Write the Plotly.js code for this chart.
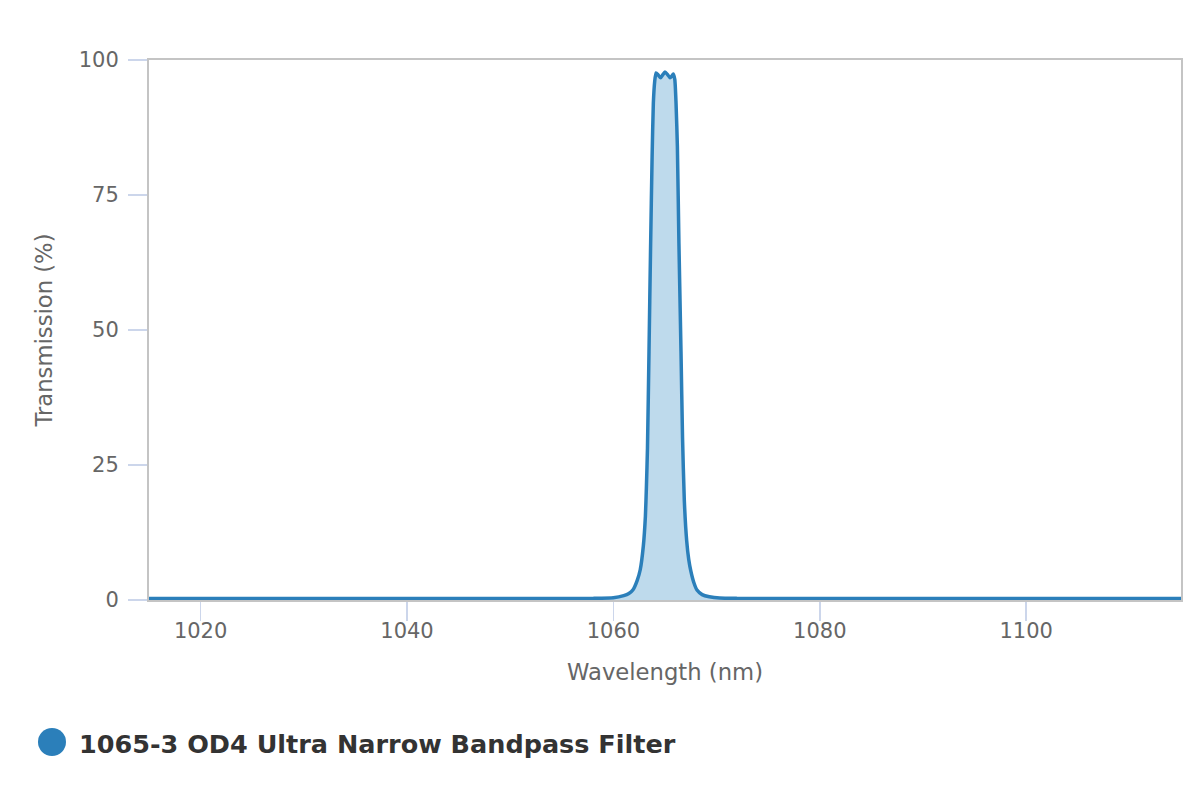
<!DOCTYPE html>
<html>
<head>
<meta charset="utf-8">
<script src="https://cdn.plot.ly/plotly-3.0.1.min.js"></script>
<style>html,body{margin:0;padding:0;background:#fff;}#chart{width:1200px;height:800px;}</style>
</head>
<body>
<div id="chart"></div>
<script>
const seriesName = "1065-3 OD4 Ultra Narrow Bandpass Filter";
const wavelength = [1015, 1040, 1058, 1060, 1061, 1061.5, 1061.9, 1062.3, 1062.6, 1062.9, 1063.1, 1063.2, 1063.3, 1063.45, 1063.6, 1063.75, 1063.87, 1064.0, 1064.13, 1064.35, 1064.58, 1064.8, 1065.0, 1065.25, 1065.49, 1065.65, 1065.8, 1065.95, 1066.07, 1066.2, 1066.35, 1066.55, 1066.7, 1066.87, 1067.1, 1067.3, 1067.5, 1067.8, 1068.1, 1068.6, 1069.3, 1070.3, 1072, 1090, 1115];
const transmission = [0.3, 0.3, 0.3, 0.4, 0.8, 1.2, 1.9, 3.6, 5.6, 10, 15.5, 21, 28, 46, 65, 82, 92, 96, 97.6, 97.2, 96.7, 97.3, 97.8, 97.3, 96.7, 97.0, 97.4, 96.4, 92, 84, 66, 46, 30, 18.5, 11, 7.5, 5.4, 3.2, 1.85, 1.0, 0.6, 0.35, 0.3, 0.3, 0.3];
const xTicks = [1020, 1040, 1060, 1080, 1100];
const yTicks = [0, 25, 50, 75, 100];

const lineColor = "#2b7fba";
const plotL = 149, plotR = 19, plotT = 60, plotB = 200;
const plotW = 1200 - plotL - plotR, plotH = 800 - plotT - plotB;
const px = v => (v - plotL) / plotW;
const py = v => (800 - plotB - v) / plotH;

const trace = {
  x: wavelength, y: transmission, type: "scatter", mode: "lines",
  name: seriesName, fill: "tozeroy", fillcolor: "rgba(190,218,236,1)",
  line: {color: lineColor, width: 3.5, shape: "spline", smoothing: 0.5}, showlegend: false, hoverinfo: "x+y"
};

const titleFont = {family: "DejaVu Sans, sans-serif", size: 22.7, color: "#666666"};
const axisCommon = {
  showgrid: false, zeroline: false, showline: true, mirror: true,
  linecolor: "#c4c4c4", linewidth: 2, ticks: "outside", ticklen: 19,
  tickwidth: 1.5, tickcolor: "#ccd6eb",
  tickfont: {family: "DejaVu Sans, sans-serif", size: 21, color: "#666666"}
};

const layout = {
  width: 1200, height: 800,
  margin: {l: plotL, r: plotR, t: plotT, b: plotB},
  paper_bgcolor: "#ffffff", plot_bgcolor: "#ffffff",
  xaxis: Object.assign({}, axisCommon, {
    range: [1015, 1115], tickvals: xTicks, ticktext: xTicks.map(String),
    ticklabelstandoff: -8,
    title: {text: "Wavelength (nm)", standoff: 22, font: titleFont}
  }),
  yaxis: Object.assign({}, axisCommon, {
    range: [0, 100], tickvals: yTicks, ticktext: yTicks.map(String),
    ticklabelstandoff: 5,
    title: {text: "Transmission (%)", standoff: 20, font: titleFont}
  }),
  shapes: [{
    type: "circle", xref: "paper", yref: "paper",
    xsizemode: "pixel", ysizemode: "pixel",
    xanchor: px(52), yanchor: py(742),
    x0: -14, x1: 14, y0: -14, y1: 14,
    fillcolor: lineColor, line: {width: 0}
  }],
  annotations: [{
    xref: "paper", yref: "paper", x: px(77), y: py(744),
    xanchor: "left", yanchor: "middle", showarrow: false,
    text: "<b>" + seriesName + "</b>",
    font: {family: "DejaVu Sans, sans-serif", size: 25.5, color: "#333333"}
  }]
};

Plotly.newPlot("chart", [trace], layout, {displayModeBar: false, staticPlot: true});
</script>
</body>
</html>
